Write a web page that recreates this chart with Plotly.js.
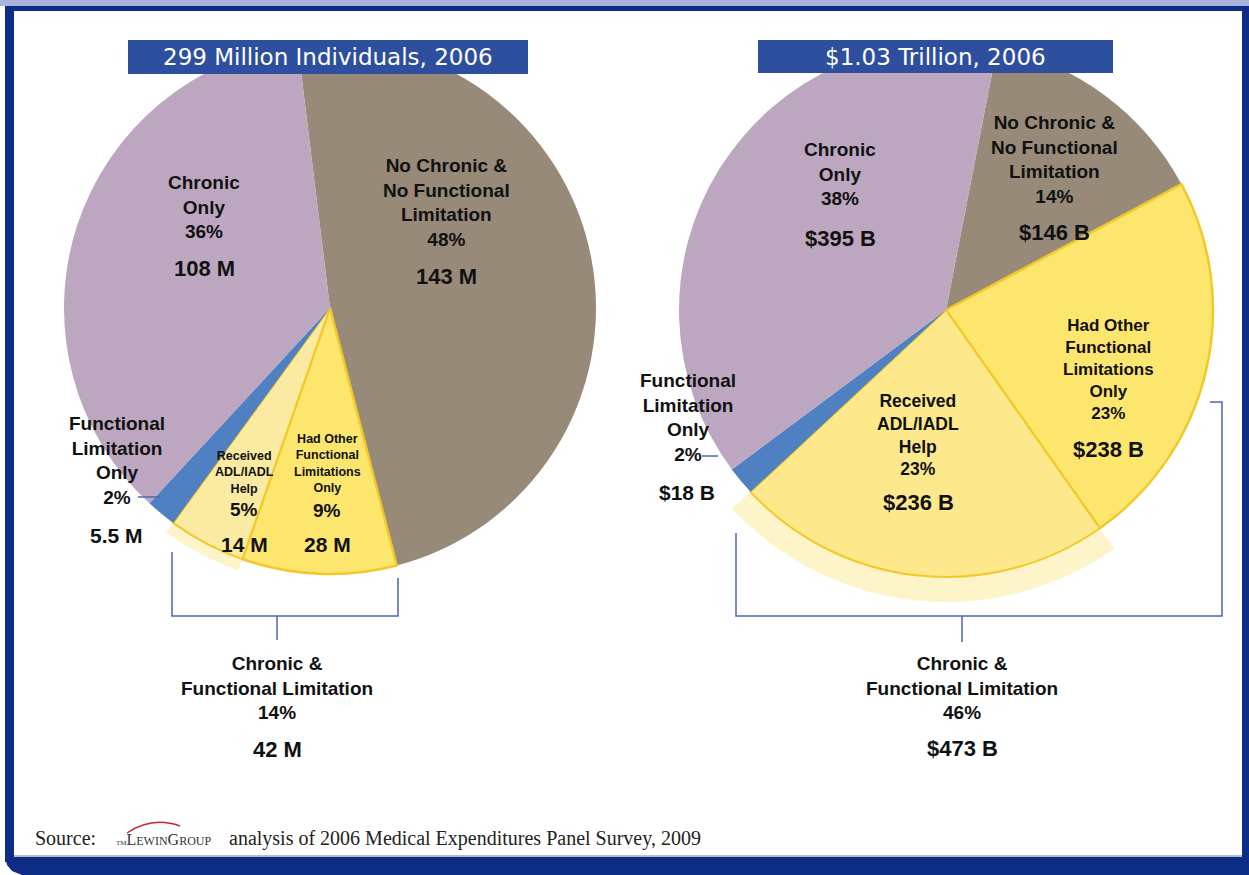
<!DOCTYPE html>
<html><head><meta charset="utf-8">
<script src="https://cdn.plot.ly/plotly-3.0.1.min.js"></script>
<style>html,body{margin:0;padding:0;background:#fff;}#chart{width:1249px;height:875px;}</style>
</head><body><div id="chart"></div>
<script>
// ---------------- data ----------------
const sliceLabels = [
  "No Chronic &<br>No Functional<br>Limitation",
  "Had Other<br>Functional<br>Limitations<br>Only",
  "Received<br>ADL/IADL<br>Help",
  "Functional<br>Limitation<br>Only",
  "Chronic<br>Only"
];
const peopleMillions = [143, 28, 14, 5.5, 108];
const spendingBillions = [146, 238, 236, 18, 395];
const leftTitle = "299 Million Individuals, 2006";
const rightTitle = "$1.03 Trillion, 2006";
const groupLabel = "Chronic &<br>Functional Limitation";
const groupPct = [14, 46];
const groupValueText = ["42 M", "$473 B"];
const sourceText = "analysis of 2006 Medical Expenditures Panel Survey, 2009";

// ---------------- styles ----------------
const leftColors  = ["#978a79", "#fde66e", "#fbeaa2", "#4f80c2", "#bda7c0"];
const rightColors = ["#978a79", "#fde66e", "#fde98c", "#4f80c2", "#bda7c0"];
const lineColors  = ["#ffffff", "#f2c928", "#f2c928", "#ffffff", "#ffffff"];
const lineWidths  = [0, 2.5, 2, 0, 0];
const haloColors  = ["rgba(0,0,0,0)", "rgba(0,0,0,0)", "rgba(252,236,165,0.6)", "rgba(0,0,0,0)", "rgba(0,0,0,0)"];
const NAVY = "#0c2c86", BOX = "#2e4f9e", BRACKET = "#4d67ad";
const W = 1249, H = 875;
const X = p => p / W, Y = p => 1 - p / H;
const sum = a => a.reduce((s, v) => s + v, 0);
const pct = (v, a) => Math.round(100 * v / sum(a)) + "%";

function dom(cx, cy, r) { return {x: [X(cx - r), X(cx + r)], y: [Y(cy + r), Y(cy - r)]}; }
function pie(values, colors, rot, d, lc, lw) {
  return {type: "pie", values: values, labels: sliceLabels, sort: false, direction: "clockwise",
    rotation: rot, domain: d, textinfo: "none", hoverinfo: "skip", showlegend: false,
    marker: {colors: colors, line: {color: lc, width: lw}}};
}
const traces = [
  pie(peopleMillions, haloColors, -7, dom(330, 308, 278), "rgba(0,0,0,0)", 0),
  pie(peopleMillions, leftColors, -7, dom(330, 308, 266), lineColors, lineWidths),
  pie(spendingBillions, haloColors, 11, dom(946, 310, 292), "rgba(0,0,0,0)", 0),
  pie(spendingBillions, rightColors, 11, dom(946, 310, 267), lineColors, lineWidths)
];

// ---------------- annotations ----------------
const ann = [];
const FONT = "Liberation Sans, Arial, sans-serif";
function txt(x, y, t, size, extra) {
  ann.push(Object.assign({xref: "paper", yref: "paper", x: X(x), y: Y(y), text: "<b>" + t + "</b>",
    showarrow: false, xanchor: "center", yanchor: "middle", align: "center",
    font: {family: FONT, size: size, color: "#111"}}, extra || {}));
}
const lv = i => peopleMillions[i] + " M";
const rv = i => "$" + spendingBillions[i] + " B";
// left pie
txt(446, 202, sliceLabels[0] + "<br>" + pct(peopleMillions[0], peopleMillions), 19); txt(446, 277, lv(0), 22);
txt(327, 464, sliceLabels[1], 12.5); txt(327, 511, pct(peopleMillions[1], peopleMillions), 19); txt(327, 544, lv(1), 21);
txt(244, 472, sliceLabels[2], 12.5); txt(244, 509, pct(peopleMillions[2], peopleMillions), 19); txt(244, 544, lv(2), 21);
txt(117, 460, sliceLabels[3] + "<br>" + pct(peopleMillions[3], peopleMillions), 19); txt(116, 535, lv(3), 21);
txt(204, 207, sliceLabels[4] + "<br>" + pct(peopleMillions[4], peopleMillions), 19); txt(204, 269, lv(4), 22);
txt(277, 688, groupLabel + "<br>" + groupPct[0] + "%", 19); txt(277, 749, groupValueText[0], 22);
// right pie
txt(1054, 159, sliceLabels[0] + "<br>" + pct(spendingBillions[0], spendingBillions), 19); txt(1054, 233, rv(0), 22);
txt(1108, 370, sliceLabels[1] + "<br>" + pct(spendingBillions[1], spendingBillions), 17); txt(1108, 450, rv(1), 22);
txt(918, 435, sliceLabels[2] + "<br>" + pct(spendingBillions[2], spendingBillions), 17.5); txt(918, 502, rv(2), 22);
txt(688, 417, sliceLabels[3] + "<br>" + pct(spendingBillions[3], spendingBillions), 19); txt(687, 492, rv(3), 21);
txt(840, 174, sliceLabels[4] + "<br>" + pct(spendingBillions[4], spendingBillions), 19); txt(840, 238, rv(4), 22);
txt(962, 688, groupLabel + "<br>" + groupPct[1] + "%", 19); txt(962, 748, groupValueText[1], 22);
// titles
ann.push({xref: "paper", yref: "paper", x: X(328), y: Y(57), text: leftTitle, showarrow: false,
  font: {family: "DejaVu Sans, sans-serif", size: 23, color: "#fff"}, xanchor: "center", yanchor: "middle"});
ann.push({xref: "paper", yref: "paper", x: X(935), y: Y(57), text: rightTitle, showarrow: false,
  font: {family: "DejaVu Sans, sans-serif", size: 23, color: "#fff"}, xanchor: "center", yanchor: "middle"});
// source
ann.push({xref: "paper", yref: "paper", x: X(33), y: Y(838), text: "Source:", showarrow: false,
  font: {family: "Liberation Serif, serif", size: 20, color: "#222"}, xanchor: "left", yanchor: "middle"});
ann.push({xref: "paper", yref: "paper", x: X(114), y: Y(839), showarrow: false, xanchor: "left", yanchor: "middle",
  text: "<span style='font-size:7px'>TM</span>L<span style='font-size:12px'>EWIN</span>G<span style='font-size:12px'>ROUP</span>",
  font: {family: "Liberation Serif, serif", size: 16, color: "#333"}});
ann.push({xref: "paper", yref: "paper", x: X(227), y: Y(838), text: sourceText, showarrow: false,
  font: {family: "Liberation Serif, serif", size: 20, color: "#222"}, xanchor: "left", yanchor: "middle"});

// ---------------- shapes ----------------
function path(pts, close) {
  return pts.map((p, i) => (i ? "L" : "M") + X(p[0]).toFixed(5) + "," + Y(p[1]).toFixed(5)).join(" ") + (close ? " Z" : "");
}
function rect(x0, y0, x1, y1, fill, layer) {
  return {type: "rect", xref: "paper", yref: "paper", x0: X(x0), x1: X(x1), y0: Y(y1), y1: Y(y0),
    fillcolor: fill, line: {width: 0}, layer: layer || "below"};
}
function line(pts, color, w) {
  return {type: "path", xref: "paper", yref: "paper", path: path(pts, false), line: {color: color, width: w}, layer: "above"};
}
const shapes = [
  rect(0, 0, W, 6, "#aab4da"),
  rect(5, 6, W, 11, NAVY),
  rect(5, 6, 14, 862, NAVY),
  rect(1242, 6, W, 862, NAVY),
  {type: "path", xref: "paper", yref: "paper", layer: "below", fillcolor: NAVY, line: {width: 0},
   path: path([[5, 857], [W, 857], [W, 875], [22, 875], [12, 871], [7, 865]], true)},
  rect(14, 855, 1242, 857, "#b7bccb"),
  rect(128, 40, 528, 74, BOX, "above"),
  rect(758, 40, 1113, 73, BOX, "above"),
  line([[172, 552], [172, 616], [398, 616], [398, 578]], BRACKET, 1.5),
  line([[277, 616], [277, 640]], BRACKET, 1.5),
  line([[736, 533], [736, 616], [1222, 616], [1222, 402], [1210, 402]], BRACKET, 1.5),
  line([[962, 616], [962, 642]], BRACKET, 1.5),
  line([[138, 497], [160, 497]], BRACKET, 1.5),
  line([[702, 456], [718, 456]], BRACKET, 1.5),
  {type: "path", xref: "paper", yref: "paper", layer: "above", line: {color: "#c8252c", width: 1.5},
   path: "M" + X(127) + "," + Y(833) + " Q" + X(152) + "," + Y(816) + " " + X(180) + "," + Y(826)}
];

Plotly.newPlot("chart", traces, {
  width: W, height: H, margin: {l: 0, r: 0, t: 0, b: 0},
  paper_bgcolor: "#ffffff", plot_bgcolor: "#ffffff", showlegend: false,
  annotations: ann, shapes: shapes
}, {displayModeBar: false, staticPlot: true});
</script></body></html>
